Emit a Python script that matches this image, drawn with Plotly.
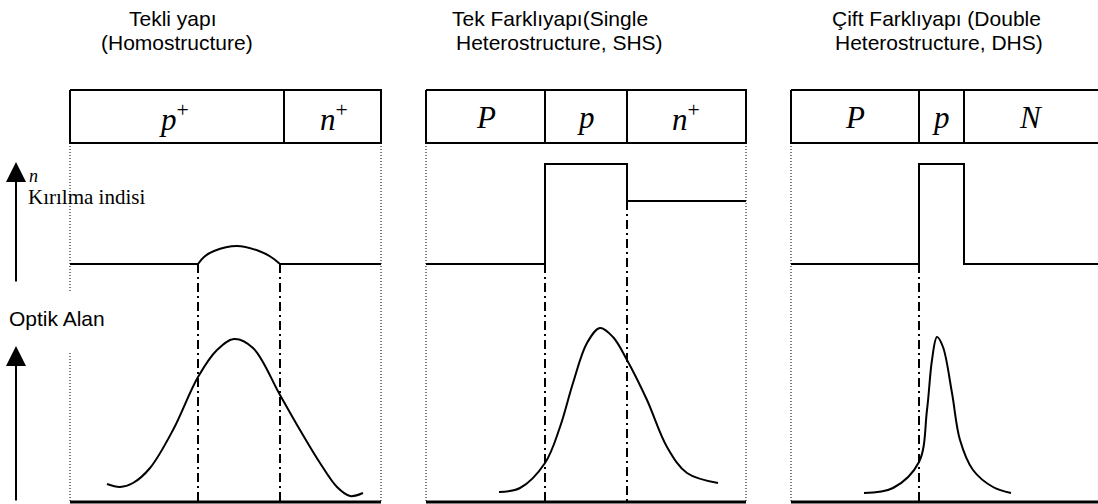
import plotly.graph_objects as go

# ---------------- data (diagram units = picture pixels) ----------------
titles = [
    ["Tekli yapı", "(Homostructure)"],
    ["Tek Farklıyapı(Single", "Heterostructure, SHS)"],
    ["Çift Farklıyapı (Double", "Heterostructure, DHS)"],
]
title_x = [[127, 99], [450, 454], [830, 833]]
title_y = [18, 42]

# layer boundaries of each structure
layer_edges = [
    [70, 284, 381],
    [426, 545, 627, 746],
    [791, 919, 964, 1115],
]
layer_labels = [
    ["<i>p</i><sup>+</sup>", "<i>n</i><sup>+</sup>"],
    ["<i>P</i>", "<i>p</i>", "<i>n</i><sup>+</sup>"],
    ["<i>P</i>", "<i>p</i>", "<i>N</i>"],
]
label_x = [[174, 334], [486, 586, 686], [855, 941, 1031]]
box_top, box_bottom = 90, 143

# refractive index profiles
index_flat_x = [[70, 198], [280, 381]]
index_flat_y = [[264, 264], [264, 264]]
index_arc_x = [198, 204, 214, 237, 259, 271, 280]
index_arc_y = [264, 257, 251, 246, 251, 257, 264]
index_step_x = [
    [426, 545, 545, 627, 627, 746],
    [791, 919, 919, 964, 964, 1115],
]
index_step_y = [
    [264, 264, 164, 164, 201, 201],
    [264, 264, 164, 164, 264, 264],
]

# optical field profiles
field_x = [
    [107, 120, 133, 150, 173, 198, 217, 234, 253, 280, 300, 320, 337, 350, 363],
    [499, 520, 545, 560, 573, 587, 600, 613, 627, 647, 667, 687, 718],
    [864, 893, 919, 927, 932, 937, 943, 952, 960, 973, 993, 1011],
]
field_y = [
    [484, 487, 483, 468, 430, 377, 350, 339, 348, 395, 430, 463, 487, 496, 493],
    [492, 488, 463, 427, 383, 343, 328, 337, 360, 400, 447, 473, 483],
    [493, 488, 462, 410, 360, 337, 347, 393, 440, 470, 487, 493],
]

# interface (dash-dot) lines: x, y_start
interfaces_x = [198, 280, 545, 627, 919]
interfaces_y0 = [264, 264, 264, 201, 264]
bottom_y = 502

# dotted outline guides: x, y_start, y_end
guides_x = [70, 70, 381, 426, 746, 791]
guides_y0 = [143, 353, 143, 143, 143, 143]
guides_y1 = [292, 502, 502, 502, 502, 502]

# baseline of each panel
baseline_x = [[70, 381], [426, 746], [791, 1115]]

# vertical axis arrows: x, tail, tip
arrow_x = 16
arrow_tail = [283, 502]
arrow_tip = [162, 346]

BLACK = "black"
fig = go.Figure()

def line(xs, ys, width=2, dash="solid", shape="linear"):
    fig.add_trace(go.Scatter(x=xs, y=ys, mode="lines",
                             line=dict(color=BLACK, width=width, dash=dash, shape=shape),
                             hoverinfo="skip", showlegend=False))

# layer boxes
for edges in layer_edges:
    line([edges[0], edges[-1], edges[-1], edges[0], edges[0]],
         [box_top, box_top, box_bottom, box_bottom, box_top], width=2)
    for e in edges[1:-1]:
        line([e, e], [box_top, box_bottom], width=2)

# dotted guides
for gx, y0, y1 in zip(guides_x, guides_y0, guides_y1):
    line([gx, gx], [y0, y1], width=1, dash="1px,2px")

# interfaces
for ix, y0 in zip(interfaces_x, interfaces_y0):
    line([ix, ix], [y0, bottom_y], width=2, dash="9px,4px,2px,4px")

# index profiles
for xs, ys in zip(index_flat_x, index_flat_y):
    line(xs, ys, width=2)
line(index_arc_x, index_arc_y, width=2, shape="spline")
for xs, ys in zip(index_step_x, index_step_y):
    line(xs, ys, width=2)

# optical fields
for xs, ys in zip(field_x, field_y):
    line(xs, ys, width=2, shape="spline")

# baselines
for xs in baseline_x:
    line(xs, [bottom_y, bottom_y], width=3)

annotations = []
# titles
for t, tx in zip(titles, title_x):
    for txt, x, y in zip(t, tx, title_y):
        annotations.append(dict(x=x, y=y, text=txt, showarrow=False, xanchor="left",
                                yanchor="middle",
                                font=dict(family="Liberation Sans, Arial", size=21, color=BLACK)))
# layer labels
for lxs, labs in zip(label_x, layer_labels):
    for lx, lab in zip(lxs, labs):
        annotations.append(dict(x=lx, y=(box_top + box_bottom) / 2 + 1,
                                text=lab, showarrow=False, xanchor="center", yanchor="middle",
                                font=dict(family="Liberation Serif, Times New Roman", size=31,
                                          color=BLACK)))
# axis labels
annotations.append(dict(x=27, y=176, text="<i>n</i>", showarrow=False, xanchor="left",
                        yanchor="middle",
                        font=dict(family="Liberation Serif", size=18, color=BLACK)))
annotations.append(dict(x=26, y=197, text="Kırılma indisi", showarrow=False, xanchor="left",
                        yanchor="middle",
                        font=dict(family="Liberation Serif", size=21, color=BLACK)))
annotations.append(dict(x=7, y=318, text="Optik Alan", showarrow=False, xanchor="left",
                        yanchor="middle",
                        font=dict(family="Liberation Sans, Arial", size=21, color=BLACK)))
# arrows
for y_tail, y_tip in zip(arrow_tail, arrow_tip):
    annotations.append(dict(x=arrow_x, y=y_tip, ax=arrow_x, ay=y_tail, xref="x", yref="y",
                            axref="x", ayref="y", text="", showarrow=True,
                            arrowhead=2, arrowsize=2, arrowwidth=2, arrowcolor=BLACK))

fig.update_layout(
    width=1098, height=504,
    margin=dict(l=0, r=0, t=0, b=0),
    paper_bgcolor="white", plot_bgcolor="white",
    xaxis=dict(range=[0, 1098], visible=False, fixedrange=True),
    yaxis=dict(range=[504, 0], visible=False, fixedrange=True),
    annotations=annotations,
)
fig.write_html("out.html", config={"displayModeBar": False},
               post_script="document.body.style.margin='0';document.body.style.overflow='hidden';")
